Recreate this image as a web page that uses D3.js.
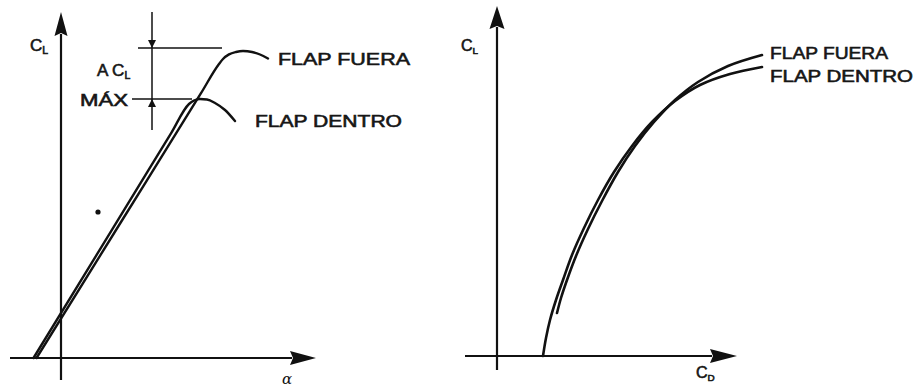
<!DOCTYPE html>
<html>
<head>
<meta charset="utf-8">
<script src="https://cdn.jsdelivr.net/npm/d3@7"></script>
<style>
  html, body { margin: 0; padding: 0; background: #fff; }
  svg { display: block; }
  .lbl { font-family: "Liberation Sans", Arial, sans-serif; fill: #161616; stroke: #161616; stroke-width: 0.6px; }
</style>
</head>
<body>
<svg id="chart" width="919" height="390"></svg>
<script>
// Lift curve C_L vs angle of attack (α, degrees), flap retracted / extended
const liftFlapDentro = [
  [-2.75, 0], [5, 0.633], [11, 1.123], [12.8, 1.27], [13.3, 1.2875], [13.9, 1.295],
  [14.6, 1.2925], [15.4, 1.275], [16.4, 1.24], [17.4, 1.185]
];
const liftFlapFuera = [
  [-2.45, 0], [6, 0.680], [14, 1.324], [15.8, 1.47], [16.2, 1.495], [16.8, 1.518],
  [17.5, 1.53], [18.2, 1.535], [19.1, 1.53], [19.9, 1.5175], [20.7, 1.4975]
];
// Drag polar C_L vs C_D
const polarFlapDentro = [
  [0.023, 0], [0.0245, 0.09], [0.0265, 0.18], [0.0295, 0.28], [0.033, 0.38], [0.0375, 0.505],
  [0.0435, 0.64], [0.0505, 0.78], [0.0585, 0.92], [0.0675, 1.05], [0.0775, 1.17],
  [0.089, 1.275], [0.1015, 1.355], [0.1165, 1.41], [0.1325, 1.445]
];
const polarFlapFuera = [
  [0.030, 0.215], [0.032, 0.29], [0.035, 0.38], [0.0395, 0.5], [0.0455, 0.635],
  [0.0525, 0.775], [0.0605, 0.92], [0.069, 1.05], [0.0785, 1.17], [0.089, 1.28],
  [0.1005, 1.37], [0.1155, 1.45], [0.1325, 1.505]
];
// Δ C_L max dimension: α position of the dimension line and the two C_L levels
const deltaAlpha = 9.1;
const deltaLevels = { max: 1.55, base: 1.295 };
const legendLabels = ["FLAP FUERA", "FLAP DENTRO"];

const svg = d3.select("#chart");
const ink = "#111";

// Left panel scales
const xL = d3.scaleLinear().domain([-5.1, 25.5]).range([10, 316]);
const yL = d3.scaleLinear().domain([-0.11, 1.73]).range([380, 12]);
// Right panel scales
const xR = d3.scaleLinear().domain([-0.016, 0.12]).range([465, 737]);
const yR = d3.scaleLinear().domain([-0.07, 1.75]).range([370, 6]);

function arrowAxes(g, x, y, xDom, yDom, hx, hy) {
  // horizontal axis
  g.append("line").attr("x1", x(xDom[0])).attr("x2", x(xDom[1]) - hx[0] + 2)
    .attr("y1", y(0)).attr("y2", y(0)).attr("stroke", ink).attr("stroke-width", 2.2);
  const tx = x(xDom[1]), ty = y(0);
  g.append("path").attr("d", `M${tx},${ty} L${tx - hx[0]},${ty - hx[1]} L${tx - hx[0] + 3},${ty} L${tx - hx[0]},${ty + hx[1]} Z`)
    .attr("fill", ink);
  // vertical axis
  g.append("line").attr("x1", x(0)).attr("x2", x(0))
    .attr("y1", y(yDom[0])).attr("y2", y(yDom[1]) + hy[0] - 2).attr("stroke", ink).attr("stroke-width", 2.2);
  const vx = x(0), vy = y(yDom[1]);
  g.append("path").attr("d", `M${vx},${vy} L${vx - hy[1]},${vy + hy[0]} L${vx},${vy + hy[0] - 3} L${vx + hy[1]},${vy + hy[0]} Z`)
    .attr("fill", ink);
}

function subLabel(g, px, py, main, sub, size) {
  const t = g.append("text").attr("class", "lbl").attr("x", px).attr("y", py)
    .attr("font-size", size);
  t.append("tspan").text(main);
  t.append("tspan").attr("font-size", size * 0.62).attr("dy", 3).text(sub);
  return t;
}

function curve(g, data, x, y, shape, w) {
  g.append("path").datum(data)
    .attr("d", d3.line().x(d => x(d[0])).y(d => y(d[1])).curve(shape))
    .attr("fill", "none").attr("stroke", ink).attr("stroke-width", w)
    .attr("stroke-linecap", "round").attr("stroke-linejoin", "round");
}

// ---------- Left panel: C_L vs α ----------
const gL = svg.append("g");
arrowAxes(gL, xL, yL, xL.domain(), yL.domain(), [26, 7], [24, 6.5]);
curve(gL, liftFlapDentro, xL, yL, d3.curveMonotoneX, 2.4);
curve(gL, liftFlapFuera, xL, yL, d3.curveMonotoneX, 2.4);

// stray dot on the sheet
gL.append("circle").attr("cx", xL(3.7)).attr("cy", yL(0.73)).attr("r", 2.6).attr("fill", ink);

// Δ C_L max dimension lines
const dx = xL(deltaAlpha);
gL.append("line").attr("x1", dx).attr("x2", dx).attr("y1", yL(1.73)).attr("y2", yL(1.14))
  .attr("stroke", ink).attr("stroke-width", 1.5);
gL.append("line").attr("x1", xL(7.7)).attr("x2", xL(16.1))
  .attr("y1", yL(deltaLevels.max)).attr("y2", yL(deltaLevels.max)).attr("stroke", ink).attr("stroke-width", 1.5);
gL.append("line").attr("x1", xL(7.1)).attr("x2", xL(13.1))
  .attr("y1", yL(deltaLevels.base)).attr("y2", yL(deltaLevels.base)).attr("stroke", ink).attr("stroke-width", 1.5);
const ty1 = yL(deltaLevels.max), ty2 = yL(deltaLevels.base);
gL.append("path").attr("d", `M${dx},${ty1} L${dx - 4},${ty1 - 8} L${dx + 4},${ty1 - 8} Z`).attr("fill", ink);
gL.append("path").attr("d", `M${dx},${ty2} L${dx - 4},${ty2 + 8} L${dx + 4},${ty2 + 8} Z`).attr("fill", ink);

subLabel(gL, 97, 76, "A C", "L", 17);
gL.append("text").attr("class", "lbl").attr("x", 80).attr("y", 106).attr("font-size", 17)
  .attr("textLength", 48).attr("lengthAdjust", "spacingAndGlyphs").text("MÁX");

subLabel(gL, 30, 51, "C", "L", 17);
gL.append("text").attr("x", 282).attr("y", 384)
  .attr("font-family", "'DejaVu Serif', serif").attr("font-style", "italic")
  .attr("font-size", 15).attr("fill", ink).text("α");

gL.append("text").attr("class", "lbl").attr("x", 278).attr("y", 65).attr("font-size", 17)
  .attr("textLength", 132).attr("lengthAdjust", "spacingAndGlyphs").text(legendLabels[0]);
gL.append("text").attr("class", "lbl").attr("x", 255).attr("y", 127).attr("font-size", 17)
  .attr("textLength", 147).attr("lengthAdjust", "spacingAndGlyphs").text(legendLabels[1]);

// ---------- Right panel: C_L vs C_D ----------
const gR = svg.append("g");
arrowAxes(gR, xR, yR, xR.domain(), yR.domain(), [27, 7], [23, 7.5]);
curve(gR, polarFlapDentro, xR, yR, d3.curveCatmullRom.alpha(0.5), 2.6);
curve(gR, polarFlapFuera, xR, yR, d3.curveCatmullRom.alpha(0.5), 2.6);

subLabel(gR, 461, 51, "C", "L", 16);
subLabel(gR, 696, 378, "C", "D", 16);

gR.append("text").attr("class", "lbl").attr("x", 770).attr("y", 59).attr("font-size", 17)
  .attr("textLength", 118).attr("lengthAdjust", "spacingAndGlyphs").text(legendLabels[0]);
gR.append("text").attr("class", "lbl").attr("x", 770).attr("y", 82).attr("font-size", 17)
  .attr("textLength", 143).attr("lengthAdjust", "spacingAndGlyphs").text(legendLabels[1]);
</script>
</body>
</html>
